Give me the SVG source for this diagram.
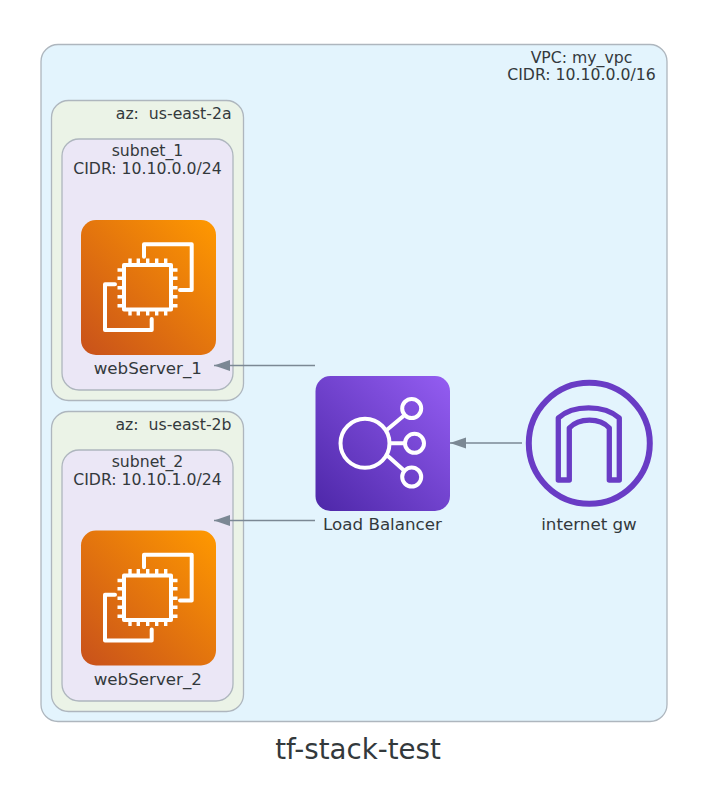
<svg xmlns="http://www.w3.org/2000/svg" xmlns:xlink="http://www.w3.org/1999/xlink" width="710" height="788" viewBox="0 0 710 788">
<style>
text{font-family:"DejaVu Sans",sans-serif;font-size:15.7px;fill:#33393c;white-space:pre}
.n{font-size:16.7px}
.m{text-anchor:middle}
.c{stroke:#aeb6be;stroke-width:1.3}
.l{stroke:#7b8894;stroke-width:1.3;fill:none}
.w{fill:none;stroke:#fff;stroke-width:4;stroke-linejoin:round;stroke-linecap:round}
</style>
<defs>
<linearGradient id="o" x1="0" y1="1" x2="1" y2="0"><stop offset="0" stop-color="#c8511b"/><stop offset="1" stop-color="#f90"/></linearGradient>
<linearGradient id="p" x1="0" y1="1" x2="1" y2="0"><stop offset="0" stop-color="#4d27a8"/><stop offset="1" stop-color="#945df2"/></linearGradient>
<marker id="a" markerUnits="userSpaceOnUse" markerWidth="16" markerHeight="12" refX="16" refY="6" orient="auto"><path d="M0 0.5L16 6L0 11.5Z" fill="#7b8894"/></marker>
<g id="ec2">
<rect width="135" height="135" rx="15" fill="url(#o)"/>
<path class="w" d="M63 36.700V24.300H110.700V70H99M34 64.300H24V110H70.700V99"/>
<rect x="43" y="45" width="47" height="44.500" class="w"/>
<path class="w" style="stroke-width:3.400;stroke-linecap:butt" d="M49 45V38.500M57.300 45V38.500M66.700 45V38.500M75.700 45V38.500M84.700 45V38.500M49 89.500V95.500M57.300 89.500V95.500M66.700 89.500V95.500M75.700 89.500V95.500M84.700 89.500V95.500M43 50H36.500M43 58.300H36.500M43 67.700H36.500M43 76.700H36.500M43 85.700H36.500M90 50H96.500M90 58.300H96.500M90 67.700H96.500M90 76.700H96.500M90 85.700H96.500"/>
</g>
</defs>
<rect width="710" height="788" fill="#fff"/>
<g id="vpc"><rect class="c" x="41" y="44.500" width="626" height="677" rx="17" fill="#e3f4fd"/>
<text class="m" x="581.500" y="62.500">VPC: my_vpc</text><text class="m" x="581.500" y="80">CIDR: 10.10.0.0/16</text></g>
<g id="az1"><rect class="c" x="51.500" y="100.500" width="192" height="300" rx="17" fill="#ebf3e7"/><text x="231.500" y="118.500" text-anchor="end">az:  us-east-2a</text></g>
<g id="subnet1"><rect class="c" x="62" y="139" width="171" height="251" rx="17" fill="#ebe7f6"/><text class="m" x="147.500" y="156">subnet_1</text><text class="m" x="147.500" y="174">CIDR: 10.10.0.0/24</text></g>
<g id="az2"><rect class="c" x="51.500" y="411.500" width="192" height="300" rx="17" fill="#ebf3e7"/><text x="231.500" y="429.500" text-anchor="end">az:  us-east-2b</text></g>
<g id="subnet2"><rect class="c" x="62" y="450" width="171" height="251" rx="17" fill="#ebe7f6"/><text class="m" x="147.500" y="467">subnet_2</text><text class="m" x="147.500" y="485">CIDR: 10.10.1.0/24</text></g>
<g id="connectors">
<path class="l" marker-end="url(#a)" d="M315 365.500H214"/>
<path class="l" marker-end="url(#a)" d="M315 520.500H214"/>
<path class="l" marker-end="url(#a)" d="M522 443H450"/>
</g>
<g id="webServer_1"><use xlink:href="#ec2" href="#ec2" x="81" y="220"/><text class="m n" x="147.800" y="374">webServer_1</text></g>
<g id="webServer_2"><use xlink:href="#ec2" href="#ec2" x="81" y="530.500"/><text class="m n" x="147.800" y="685">webServer_2</text></g>
<g id="lb"><rect x="315.500" y="376" width="134.500" height="135" rx="15" fill="url(#p)"/>
<circle class="w" cx="365" cy="443.300" r="24.500"/><circle class="w" cx="411.700" cy="408.500" r="9.500"/><circle class="w" cx="414.500" cy="443.300" r="9.500"/><circle class="w" cx="411.700" cy="477" r="9.500"/><path class="w" style="stroke-linecap:butt" d="M386.700 430L403.500 416M390 443.300H405M386.700 455L403.500 470"/>
<text class="m n" x="382.500" y="530">Load Balancer</text></g>
<g id="igw"><circle cx="589.300" cy="443.300" r="60.500" fill="none" stroke="#693cc5" stroke-width="6"/>
<path fill="none" stroke="#693cc5" stroke-width="5.300" stroke-linejoin="round" d="M558.300 480V418C573 404.500 604 404.500 619.300 418V480H609.300V428C600 417.500 579 417.500 569.300 428V480Z"/>
<text class="m n" x="589" y="530">internet gw</text></g>
<text class="m" x="358" y="759" style="font-size:27.7px">tf-stack-test</text>
</svg>
